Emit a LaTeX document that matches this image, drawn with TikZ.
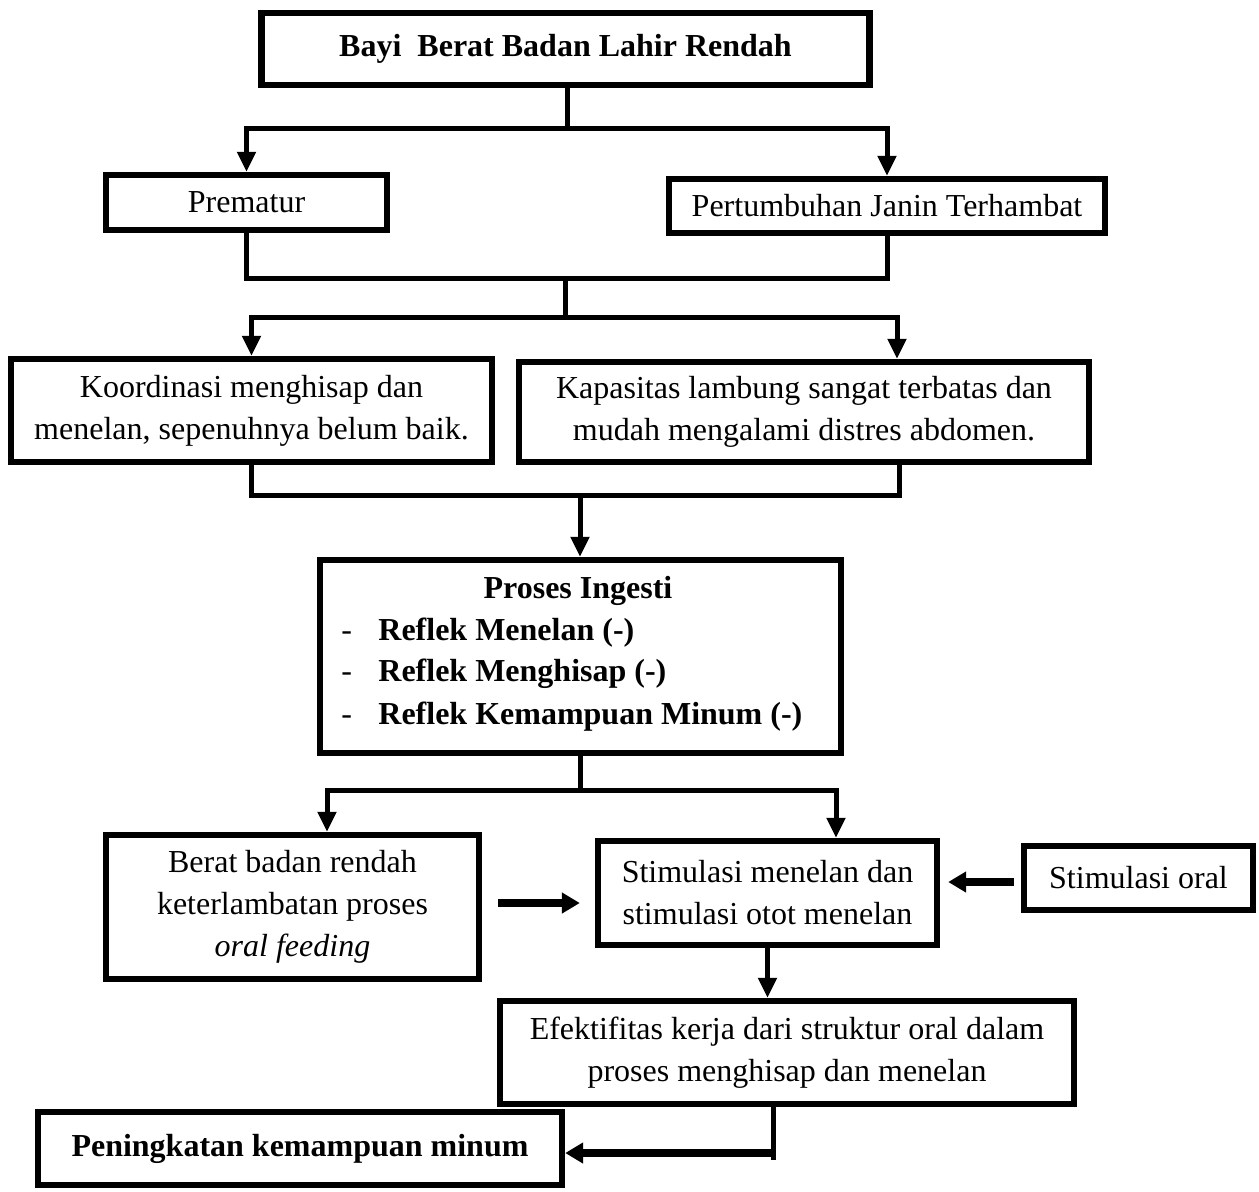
\documentclass[tikz,border=0pt]{standalone}
\usepackage{fontspec}
\setmainfont{Liberation Serif}
\usetikzlibrary{arrows.meta,calc}
\begin{document}
\begin{tikzpicture}[x=0.5pt,y=-0.5pt,
  every node/.style={font=\fontsize{16pt}{21pt}\selectfont},
  box/.style={draw, line width=3.2pt, align=center, inner sep=0pt},
  conn/.style={line width=2.5pt},
  arr/.style={line width=2.5pt, -{Triangle[length=10pt,width=9pt]}},
  tarr/.style={line width=4pt, -{Triangle[length=9pt,width=10pt]}},
  lbl/.style={anchor=west, inner sep=0pt}]
\useasboundingbox (0,0) rectangle (1259,1191);
% boxes
\node[box, minimum width=304pt, minimum height=36pt] (bblr) at (565.5,49) {\textbf{Bayi\ \ Berat Badan Lahir Rendah}};
\node[box, minimum width=140.5pt, minimum height=27.5pt] (prem) at (246.5,202.5) {\raisebox{-2pt}{Prematur}};
\node[box, minimum width=218pt, minimum height=27pt] (pert) at (887,206) {\raisebox{-1pt}{Pertumbuhan Janin Terhambat}};
\node[box, minimum width=240.5pt, minimum height=51.5pt] (koord) at (251.5,410.5) {Koordinasi menghisap dan\\menelan, sepenuhnya belum baik.};
\node[box, minimum width=285pt, minimum height=50pt] (kap) at (804,412) {Kapasitas lambung sangat terbatas dan\\mudah mengalami distres abdomen.};
\node[box, minimum width=260.5pt, minimum height=96.5pt] (proses) at (580.5,656.5) {};
\node[inner sep=0pt] (ptitle) at (578,590) {\strut\textbf{Proses Ingesti}};
\node[lbl] (d1) at (341,632) {\strut -};
\node[lbl] (p1) at (378,632) {\strut\textbf{Reflek Menelan (-)}};
\node[lbl] (d2) at (341,673) {\strut -};
\node[lbl] (p2) at (378,673) {\strut\textbf{Reflek Menghisap (-)}};
\node[lbl] (d3) at (341,716) {\strut -};
\node[lbl] (p3) at (378,716) {\strut\textbf{Reflek Kemampuan Minum (-)}};
\node[box, minimum width=186.5pt, minimum height=72pt] (berat) at (292.5,907) {Berat badan rendah\\keterlambatan proses\\\textit{oral feeding}};
\node[box, minimum width=169.5pt, minimum height=52pt] (stim) at (767.5,893) {Stimulasi menelan dan\\stimulasi otot menelan};
\node[box, minimum width=114.5pt, minimum height=32pt] (oral) at (1138.5,878) {Stimulasi oral};
\node[box, minimum width=287pt, minimum height=51.5pt] (efek) at (787,1052.5) {Efektifitas kerja dari struktur oral dalam\\proses menghisap dan menelan};
\node[box, minimum width=262pt, minimum height=36.5pt] (pen) at (300,1148.5) {\textbf{Peningkatan kemampuan minum}};
% junction coordinates
\coordinate (j1) at (567,128);
\coordinate (j2) at (565,278);
\coordinate (j3) at (565,317);
\coordinate (kr) at (897,317);
\coordinate (j4) at (580,495);
\coordinate (kr2) at (899,495);
\coordinate (j5) at (580,790);
\coordinate (bl) at (327,790);
\coordinate (sr) at (836,790);
\coordinate (y903) at (0,903);
\coordinate (y882) at (0,882);
\coordinate (e1) at (773,1160);
\coordinate (e2) at (773,1153);
% connectors
\draw[conn] (bblr.south -| j1) -- (j1);
\draw[arr] (j1) -| (prem.north);
\draw[arr] (j1) -| (pert.north);
\draw[conn] (prem.south) |- (j2);
\draw[conn] (pert.south) |- (j2);
\draw[conn] (j2) -- (j3);
\draw[arr] (j3) -| (koord.north);
\draw[arr] (j3) -- (kr) -- (kr |- kap.north);
\draw[conn] (koord.south) |- (j4);
\draw[conn] (kr2 |- kap.south) -- (kr2) -- (j4);
\draw[arr] (j4) -- (j4 |- proses.north);
\draw[conn] (j5 |- proses.south) -- (j5);
\draw[arr] (j5) -- (bl) -- (bl |- berat.north);
\draw[arr] (j5) -- (sr) -- (sr |- stim.north);
\draw[tarr, shorten <=8pt, shorten >=7.5pt] (berat.east |- y903) -- (stim.west |- y903);
\draw[tarr, shorten <=3.5pt, shorten >=4pt] (oral.west |- y882) -- (stim.east |- y882);
\draw[arr] (stim.south) -- (stim.south |- efek.north);
\draw[conn] (e1 |- efek.south) -- (e1);
\draw[tarr] (e2) -- (e2 -| pen.east);
\end{tikzpicture}
\end{document}
